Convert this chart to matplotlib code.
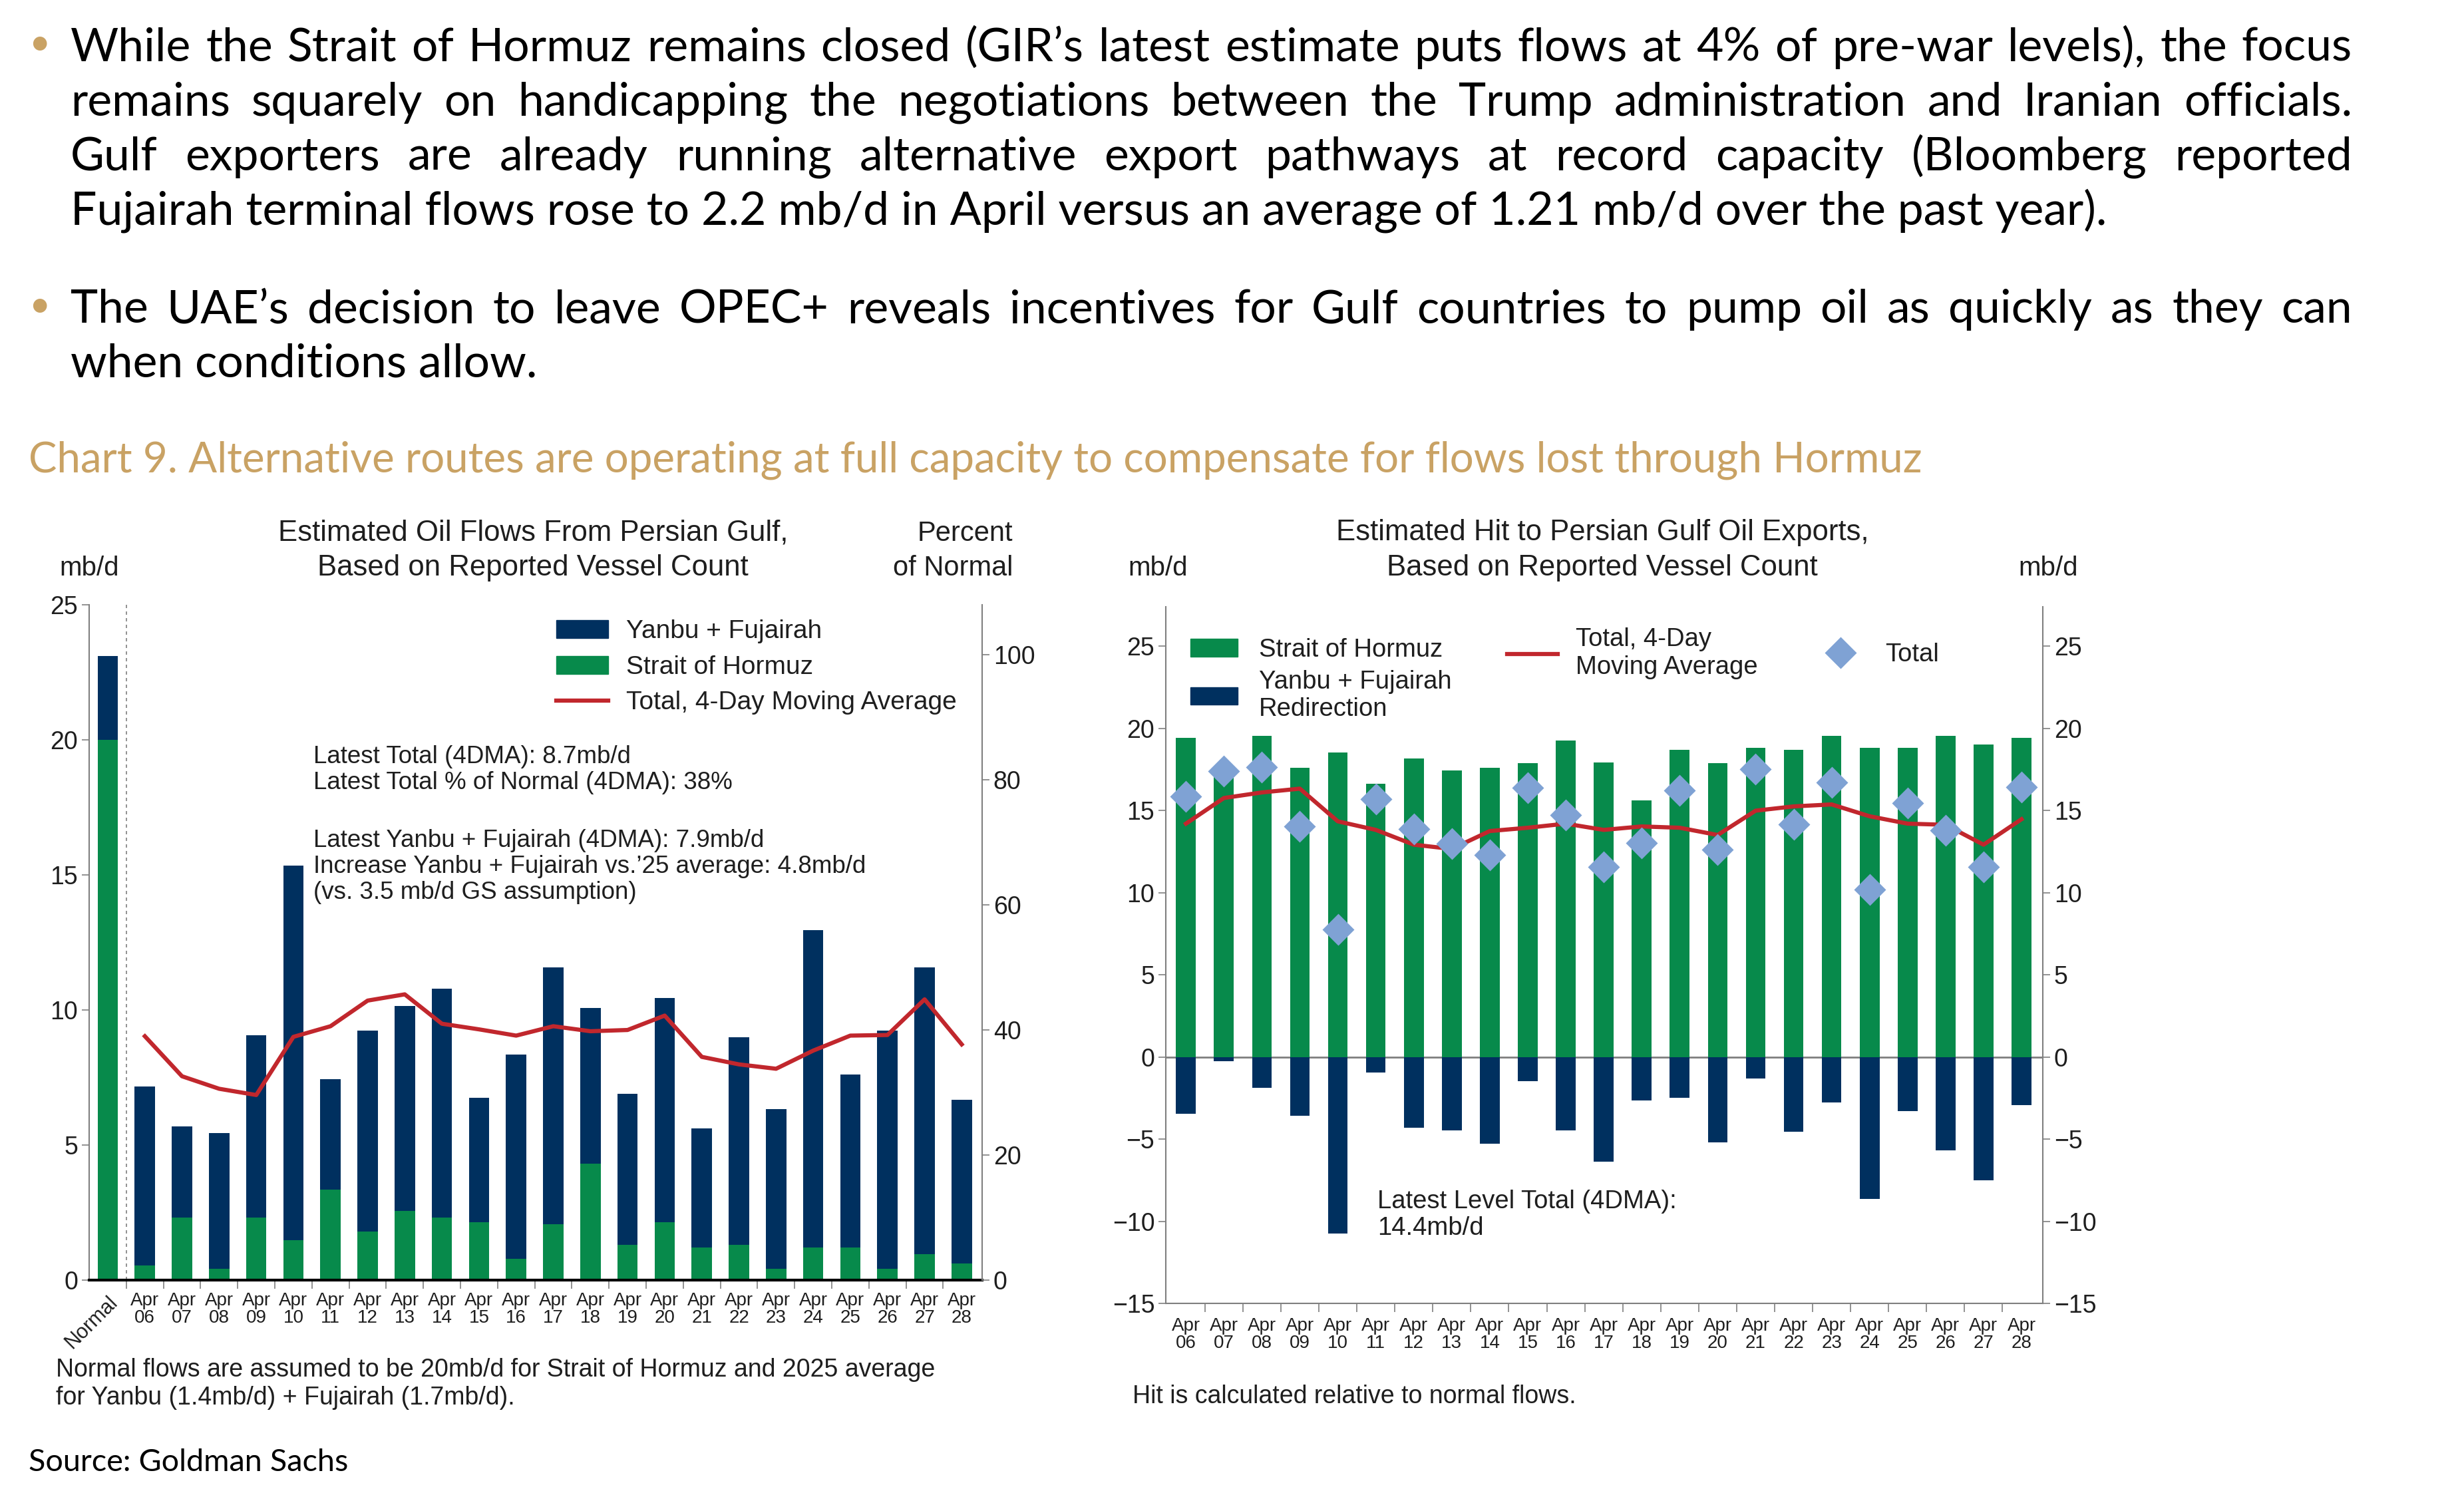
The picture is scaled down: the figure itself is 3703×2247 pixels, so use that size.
import matplotlib
matplotlib.use("Agg")
import matplotlib.pyplot as plt
import numpy as np
from matplotlib.lines import Line2D
from matplotlib.patches import Patch

# Colours
NAVY = '#00305F'
GREEN = '#078A4B'
RED = '#C1272D'
DIAMOND = '#7FA2D4'
TAN = '#C9A264'
GREY = '#7F7F7F'
INK = '#1E1E1E'

CHART_FONT = ['Liberation Sans Narrow', 'Liberation Sans', 'DejaVu Sans']
BODY_FONT = ['Lato', 'DejaVu Sans']

# ---- data -------------------------------------------------------------
days = ['06', '07', '08', '09', '10', '11', '12', '13', '14', '15', '16', '17',
        '18', '19', '20', '21', '22', '23', '24', '25', '26', '27', '28']
day_labels = ['Apr\n' + d for d in days]

# left chart: estimated flows, mb/d
normal_hormuz = 20.0
normal_yanbu_fuj = 3.1
flow_total = [7.17, 5.70, 5.45, 9.06, 15.34, 7.43, 9.23, 10.16, 10.78, 6.75, 8.35, 11.57,
              10.08, 6.90, 10.44, 5.62, 8.98, 6.33, 12.95, 7.61, 9.23, 11.57, 6.67]
flow_hormuz = [0.53, 2.32, 0.43, 2.32, 1.48, 3.34, 1.80, 2.57, 2.32, 2.14, 0.79, 2.08,
               4.31, 1.31, 2.14, 1.20, 1.31, 0.43, 1.20, 1.20, 0.43, 0.97, 0.62]
# 4-day moving average, percent of normal (right axis)
flow_4dma_pct = [39.0, 32.6, 30.6, 29.6, 38.9, 40.6, 44.7, 45.7, 41.0, 40.1, 39.1, 40.6,
                 39.8, 40.0, 42.3, 35.7, 34.5, 33.8, 36.7, 39.1, 39.2, 44.9, 37.7]

# right chart: estimated hit, mb/d
hit_hormuz = [19.43, 17.68, 19.56, 17.60, 18.55, 16.63, 18.18, 17.45, 17.62, 17.88, 19.25, 17.91,
              15.62, 18.71, 17.88, 18.83, 18.71, 19.56, 18.83, 18.83, 19.56, 19.02, 19.41]
hit_yanbu_fuj = [-3.45, -0.25, -1.89, -3.60, -10.76, -0.95, -4.29, -4.49, -5.27, -1.47, -4.46, -6.36,
                 -2.64, -2.49, -5.20, -1.32, -4.57, -2.79, -8.65, -3.31, -5.70, -7.50, -2.95]
hit_total = [15.85, 17.40, 17.65, 14.03, 7.75, 15.68, 13.88, 12.97, 12.30, 16.40, 14.74, 11.55,
             13.01, 16.22, 12.62, 17.50, 14.15, 16.70, 10.18, 15.45, 13.80, 11.55, 16.42]
hit_4dma = [14.20, 15.76, 16.10, 16.33, 14.34, 13.82, 12.92, 12.66, 13.75, 13.95, 14.20, 13.82,
            14.03, 13.95, 13.51, 14.99, 15.25, 15.37, 14.65, 14.20, 14.13, 12.92, 14.47]

bullet1 = [
    "While the Strait of Hormuz remains closed (GIR\u2019s latest estimate puts flows at 4% of pre-war levels), the focus",
    "remains squarely on handicapping the negotiations between the Trump administration and Iranian officials.",
    "Gulf exporters are already running alternative export pathways at record capacity (Bloomberg reported",
    "Fujairah terminal flows rose to 2.2 mb/d in April versus an average of 1.21 mb/d over the past year).",
]
bullet2 = [
    "The UAE\u2019s decision to leave OPEC+ reveals incentives for Gulf countries to pump oil as quickly as they can",
    "when conditions allow.",
]

# ---- figure -----------------------------------------------------------
W, H = 3703, 2247
DPI = 100
fig = plt.figure(figsize=(W / DPI, H / DPI), dpi=DPI)
renderer = fig.canvas.get_renderer()


def fx(px):
    return px / W


def fy(py):
    return 1 - py / H


def fit_size(text, width, family, probe=40):
    t = fig.text(0, 0, text, fontsize=probe, family=family)
    w = t.get_window_extent(renderer).width
    t.remove()
    return probe * width / w


def put_line(text, x0, x1, y, justify, **kw):
    if not justify:
        fig.text(fx(x0), fy(y), text, va='baseline', **kw)
        return
    words = text.split(' ')
    objs = [fig.text(0, fy(y), w, va='baseline', **kw) for w in words]
    widths = [o.get_window_extent(renderer).width for o in objs]
    gap = (x1 - x0 - sum(widths)) / (len(words) - 1)
    x = x0
    for o, w in zip(objs, widths):
        o.set_x(fx(x))
        x += w + gap


# bullets at the top
body_size = fit_size(bullet1[3], 3165 - 106, BODY_FONT)
for i, line in enumerate(bullet1):
    put_line(line, 106, 3535, 92 + i * 82, i < 3, fontsize=body_size, family=BODY_FONT, color='black')
for i, line in enumerate(bullet2):
    put_line(line, 106, 3535, 485 + i * 81, i < 1, fontsize=body_size, family=BODY_FONT, color='black')
for yb in (66, 460):
    fig.text(fx(59), fy(yb), '\u2022', fontsize=body_size * 0.8, color=TAN,
             ha='center', va='center', family=BODY_FONT)

title = "Chart 9. Alternative routes are operating at full capacity to compensate for flows lost through Hormuz"
fig.text(fx(43), fy(710), title, va='baseline', color=TAN, family=BODY_FONT,
         fontsize=fit_size(title, 2886 - 43, BODY_FONT))

src = "Source: Goldman Sachs"
fig.text(fx(43), fy(2211), src, va='baseline', color='black', family=BODY_FONT,
         fontsize=fit_size(src, 524 - 43, BODY_FONT))

# ---- left chart -------------------------------------------------------
ax = fig.add_axes([fx(134), fy(1924), (1476 - 134) / W, (1924 - 909) / H])
x_left = np.arange(len(days) + 1)
hormuz_all = [normal_hormuz] + flow_hormuz
yanbu_all = [normal_yanbu_fuj] + [t - h for t, h in zip(flow_total, flow_hormuz)]
bw = 0.55
ax.bar(x_left, hormuz_all, width=bw, color=GREEN, zorder=2)
ax.bar(x_left, yanbu_all, width=bw, bottom=hormuz_all, color=NAVY, zorder=2)
ax.axvline(0.5, color=GREY, lw=1.2, ls=(0, (3, 3)), zorder=1)
ax.set_xlim(-0.5, len(days) + 0.55)
ax.set_ylim(0, 25)
ax.set_yticks(range(0, 26, 5))
ax.set_xticks(x_left)
ax.set_xticklabels(['Normal'] + day_labels)
ax.set_xticks(np.arange(0.5, len(days)), minor=True)
ax.tick_params(axis='x', which='major', length=0, pad=13, labelsize=20, labelcolor=INK)
ax.tick_params(axis='x', which='minor', length=9, width=1.2, color=GREY)
ax.tick_params(axis='y', length=8, width=1.2, color=GREY, labelsize=27, labelcolor=INK, pad=4)
for lab in ax.get_xticklabels():
    lab.set_family(CHART_FONT)
    lab.set_linespacing(1.0)
for lab in ax.get_yticklabels():
    lab.set_family(CHART_FONT)
norm_lab = ax.get_xticklabels()[0]
norm_lab.set_rotation(45)
norm_lab.set_rotation_mode('anchor')
norm_lab.set_ha('right')
norm_lab.set_va('top')
norm_lab.set_fontsize(22)
ax.spines['top'].set_visible(False)
ax.spines['left'].set_color(GREY)
ax.spines['left'].set_linewidth(1.5)
ax.spines['right'].set_visible(False)
ax.spines['bottom'].set_color('black')
ax.spines['bottom'].set_linewidth(3)
ax.spines['bottom'].set_zorder(3)

ax2 = ax.twinx()
ax2.plot(x_left[1:], flow_4dma_pct, color=RED, lw=4.5, zorder=3)
ax2.set_ylim(0, 108)
ax2.set_yticks(range(0, 101, 20))
ax2.tick_params(axis='y', length=8, width=1.2, color=GREY, labelsize=27, labelcolor=INK, pad=4)
for lab in ax2.get_yticklabels():
    lab.set_family(CHART_FONT)
for s in ('top', 'left', 'bottom'):
    ax2.spines[s].set_visible(False)
ax2.spines['right'].set_color(GREY)
ax2.spines['right'].set_linewidth(1.5)

leg = ax2.legend(handles=[Patch(color=NAVY), Patch(color=GREEN), Line2D([], [], color=RED, lw=4.5)],
                 labels=['Yanbu + Fujairah', 'Strait of Hormuz', 'Total, 4-Day Moving Average'],
                 loc='upper left', bbox_to_anchor=(0.523, 0.978), frameon=False, borderpad=0,
                 borderaxespad=0, handlelength=2.0, handletextpad=0.7, labelspacing=0.45,
                 prop={'family': CHART_FONT, 'size': 28})
for t in leg.get_texts():
    t.set_color(INK)

# texts placed by the baseline of their last line
txt_kw = dict(family=CHART_FONT, color=INK, va='baseline')
fig.text(fx(801), fy(865), "Estimated Oil Flows From Persian Gulf,\nBased on Reported Vessel Count",
         ha='center', fontsize=31.5, linespacing=1.37, **txt_kw)
fig.text(fx(1522), fy(865), "Percent\nof Normal", ha='right', fontsize=30, linespacing=1.4, **txt_kw)
fig.text(fx(134), fy(865), "mb/d", ha='center', fontsize=29, **txt_kw)
fig.text(fx(471), fy(1186), "Latest Total (4DMA): 8.7mb/d\nLatest Total % of Normal (4DMA): 38%",
         ha='left', fontsize=26.5, linespacing=1.15, **txt_kw)
fig.text(fx(471), fy(1351),
         "Latest Yanbu + Fujairah (4DMA): 7.9mb/d\nIncrease Yanbu + Fujairah vs.\u201925 average: 4.8mb/d\n"
         "(vs. 3.5 mb/d GS assumption)", ha='left', fontsize=26.5, linespacing=1.15, **txt_kw)
fig.text(fx(84), fy(2111),
         "Normal flows are assumed to be 20mb/d for Strait of Hormuz and 2025 average\n"
         "for Yanbu (1.4mb/d) + Fujairah (1.7mb/d).", ha='left', fontsize=27, linespacing=1.2, **txt_kw)

# ---- right chart ------------------------------------------------------
bx = fig.add_axes([fx(1752), fy(1959), (3070 - 1752) / W, (1959 - 912) / H])
x_right = np.arange(len(days))
bw2 = 0.52
bx.bar(x_right, hit_hormuz, width=bw2, color=GREEN, zorder=2)
bx.bar(x_right, hit_yanbu_fuj, width=bw2, color=NAVY, zorder=2)
bx.axhline(0, color=GREY, lw=2, zorder=1)
bx.plot(x_right, hit_4dma, color=RED, lw=4.5, zorder=3)
bx.plot(x_right, hit_total, ls='none', marker='D', ms=24, color=DIAMOND, mec='none', zorder=4)
bx.set_xlim(-0.53, len(days) - 0.44)
bx.set_ylim(-15, 27.4)
bx.set_yticks(range(-15, 26, 5))
bx.set_yticklabels([str(v).replace('-', '\u2212') for v in range(-15, 26, 5)])
bx.set_xticks(x_right)
bx.set_xticklabels(day_labels)
bx.set_xticks(np.arange(0.5, len(days) - 1), minor=True)
bx.tick_params(axis='x', which='major', length=0, pad=15, labelsize=20, labelcolor=INK)
bx.tick_params(axis='x', which='minor', length=9, width=1.2, color=GREY)
bx.tick_params(axis='y', length=8, width=1.2, color=GREY, labelsize=27, labelcolor=INK, pad=4,
               left=True, right=True, labelleft=True, labelright=True)
for lab in bx.get_xticklabels():
    lab.set_family(CHART_FONT)
    lab.set_linespacing(1.0)
for lab in bx.yaxis.get_ticklabels():
    lab.set_family(CHART_FONT)
for tk in bx.yaxis.get_major_ticks():
    tk.label2.set_family(CHART_FONT)
bx.spines['top'].set_visible(False)
for s in ('left', 'right', 'bottom'):
    bx.spines[s].set_color(GREY)
    bx.spines[s].set_linewidth(1.5)

leg_prop = {'family': CHART_FONT, 'size': 27.5}
lg1 = bx.legend(handles=[Patch(color=GREEN), Patch(color=NAVY)],
                labels=['Strait of Hormuz', 'Yanbu + Fujairah\nRedirection'],
                loc='upper left', bbox_to_anchor=(0.028, 0.955), frameon=False, borderpad=0,
                borderaxespad=0, handlelength=1.85, handletextpad=0.85, labelspacing=0.3, prop=leg_prop)
bx.add_artist(lg1)
lg2 = bx.legend(handles=[Line2D([], [], color=RED, lw=4.5)], labels=['Total, 4-Day\nMoving Average'],
                loc='center left', bbox_to_anchor=(0.389, 0.933), frameon=False, borderpad=0,
                borderaxespad=0, handlelength=2.0, handletextpad=0.7, prop=leg_prop)
bx.add_artist(lg2)
lg3 = bx.legend(handles=[Line2D([], [], ls='none', marker='D', ms=24, color=DIAMOND, mec='none')],
                labels=['Total'], loc='center left', bbox_to_anchor=(0.742, 0.931), frameon=False,
                borderpad=0, borderaxespad=0, handlelength=1.9, handletextpad=0.8, prop=leg_prop)
for lg in (lg1, lg2, lg3):
    for t in lg.get_texts():
        t.set_color(INK)

fig.text(fx(2408), fy(865), "Estimated Hit to Persian Gulf Oil Exports,\nBased on Reported Vessel Count",
         ha='center', fontsize=31.5, linespacing=1.37, **txt_kw)
fig.text(fx(1740), fy(865), "mb/d", ha='center', fontsize=29, **txt_kw)
fig.text(fx(3078), fy(865), "mb/d", ha='center', fontsize=29, **txt_kw)
fig.text(fx(2070), fy(1856), "Latest Level Total (4DMA):\n14.4mb/d", ha='left', fontsize=27.5,
         linespacing=1.15, **txt_kw)
fig.text(fx(1702), fy(2109), "Hit is calculated relative to normal flows.", ha='left', fontsize=27, **txt_kw)

fig.savefig('out.png', dpi=DPI, facecolor='white')
